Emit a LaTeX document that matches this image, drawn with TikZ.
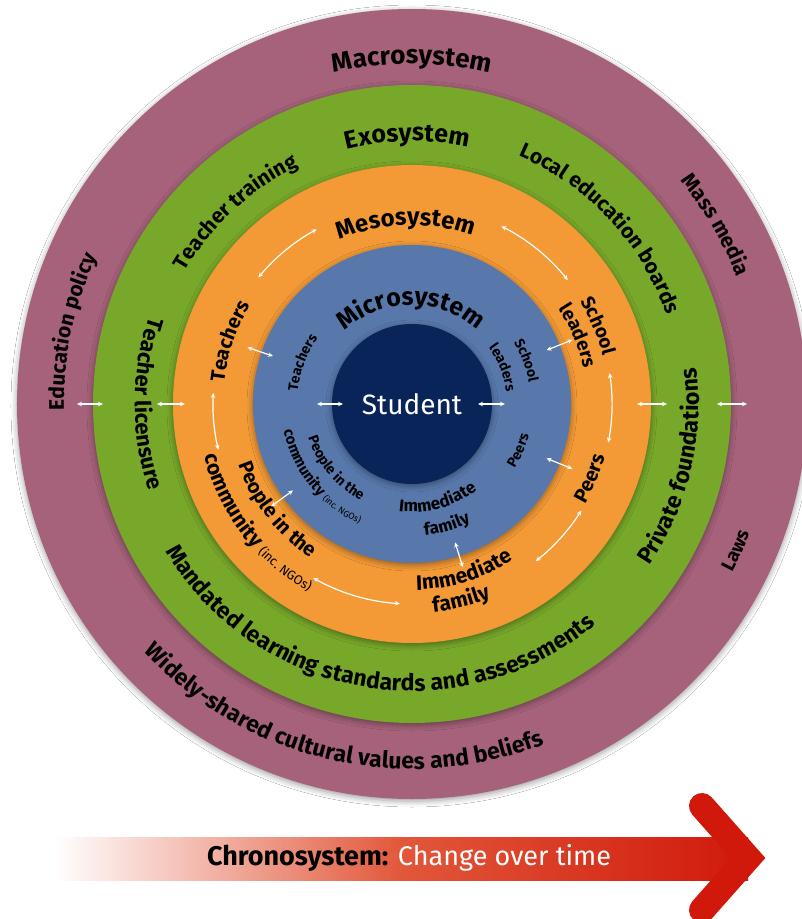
\documentclass[tikz,border=0pt]{standalone}
\usepackage{fontspec}
\setmainfont{Fira Sans}
\usetikzlibrary{arrows.meta,decorations.text,shadows.blur}

\definecolor{macrocol}{HTML}{A5627A}
\definecolor{exocol}{HTML}{78A82A}
\definecolor{mesocol}{HTML}{F39A36}
\definecolor{microcol}{HTML}{5878AC}
\definecolor{studentcol}{HTML}{082458}
\definecolor{chronored}{HTML}{D0190A}
\definecolor{chronomid}{HTML}{E2573A}

% text on an arc, read clockwise (upper half): radius, centre angle, size, text
\newcommand{\cwtext}[4]{%
  \path[decorate,decoration={text along path,text align=center,
    text={|\bfseries\fontsize{#3}{#3}\selectfont|#4}}]
    (#2+85:#1) arc[start angle=#2+85,end angle=#2-85,radius=#1];}
% text on an arc, read counter-clockwise (lower half)
\newcommand{\ccwtext}[4]{%
  \path[decorate,decoration={text along path,text align=center,
    text={|\bfseries\fontsize{#3}{#3}\selectfont|#4}}]
    (#2-85:#1) arc[start angle=#2-85,end angle=#2+85,radius=#1];}

\begin{document}
\begin{tikzpicture}[x=1pt,y=1pt,
  twoway/.style={{Stealth[length=5pt,width=4.5pt]}-{Stealth[length=5pt,width=4.5pt]},white,line width=1.2pt},
  ring/.style={blur shadow={shadow xshift=0pt,shadow yshift=-2pt,shadow blur radius=6pt,shadow opacity=40}}]
\useasboundingbox (-412,-515) rectangle (390,404);
\fill[white] (-412,-515) rectangle (390,404);

% Draw the rings
\fill[macrocol,ring] (0,0) circle[radius=395];
\fill[exocol,ring] (0,0) circle[radius=319];
\fill[mesocol,ring] (0,0) circle[radius=239];
\fill[microcol,ring] (0,0) circle[radius=159];
\fill[studentcol,ring] (0,0) circle[radius=80];
\node[text=white,font=\fontsize{28}{28}\selectfont] (student) at (0,0) {Student};

% Macrosystem
\cwtext{340}{90}{26}{Macrosystem}
\cwtext{349}{30.5}{21}{Mass media}
\cwtext{348}{168}{21}{Education policy}
\ccwtext{362}{-24.3}{19}{Laws}
\ccwtext{365}{257}{23}{Widely-shared cultural values and beliefs}

% Exosystem
\cwtext{263}{91}{25}{Exosystem}
\cwtext{263}{132.6}{21}{Teacher training}
\cwtext{270}{43}{21}{Local education boards}
\ccwtext{277}{180}{22}{Teacher licensure}
\ccwtext{287}{-13.5}{23}{Private foundations}
\ccwtext{287}{260.3}{23}{Mandated learning standards and assessments}

% Mesosystem
\cwtext{179}{92}{24}{Mesosystem}
\cwtext{189}{161}{20}{Teachers}
\cwtext{197}{22.8}{19}{School}
\cwtext{175}{22.3}{19}{leaders}
\ccwtext{200}{-22.6}{20}{Peers}
\ccwtext{186}{-72.8}{21}{Immediate}
\ccwtext{209}{-76}{21}{family}
\ccwtext{184}{217.9}{20}{People in the}
\ccwtext{214}{217.5}{21}{community |\fontsize{13}{13}\selectfont|(inc. NGOs)}

% Microsystem
\cwtext{99}{90.5}{25}{Microsystem}
\cwtext{115}{159.4}{14}{Teachers}
\cwtext{119}{20.8}{14}{School}
\cwtext{95}{21.7}{14}{leaders}
\ccwtext{121}{-23.5}{14}{Peers}
\ccwtext{108}{-75}{17}{Immediate}
\ccwtext{132}{-74}{17}{family}
\ccwtext{109}{219.9}{14}{People in the}
\ccwtext{131}{219}{15}{community |\fontsize{9}{9}\selectfont|(inc. NGOs)}

% Arrows across the rings
\draw[twoway] (-335,0) -- (-309,0);
\draw[twoway] (-255,0) -- (-227,0);
\draw[twoway] (-95,0) -- (-69,0);
\draw[twoway] (66,0) -- (93,0);
\draw[twoway] (225,0) -- (255,0);
\draw[twoway] (305,0) -- (335,0);
\draw[twoway] (161:174) -- (161:147);
\draw[twoway] (216:174) -- (216:147);
\draw[twoway] (21.8:173) -- (21.8:145);
\draw[twoway] (-22:173) -- (-22:145);
\draw[twoway] (-72.7:171) -- (-72.7:145);

% Arrows inside the mesosystem
\draw[twoway] (118.6:199) arc[start angle=118.6,end angle=140.5,radius=199];
\draw[twoway] (63.3:199) arc[start angle=63.3,end angle=38.5,radius=199];
\draw[twoway] (176.8:199) arc[start angle=176.8,end angle=193.3,radius=199];
\draw[twoway] (8.9:200) arc[start angle=8.9,end angle=-11.1,radius=200];
\draw[twoway] (-32.2:200) arc[start angle=-32.2,end angle=-51.8,radius=200];
\draw[twoway] (240.4:200) arc[start angle=240.4,end angle=266.5,radius=200];

% Chronosystem arrow
\shade[left color=white,right color=chronored,middle color=chronomid] (-357,-433) rectangle (336,-476);
\draw[chronored,line width=26,line cap=round,line join=miter] (290,-402) -- (336,-454) -- (290,-506);
\node[font=\fontsize{27}{27}\selectfont] (chrono) at (-3,-454) {\textbf{Chronosystem:} \textcolor{white}{Change over time}};
\end{tikzpicture}
\end{document}
